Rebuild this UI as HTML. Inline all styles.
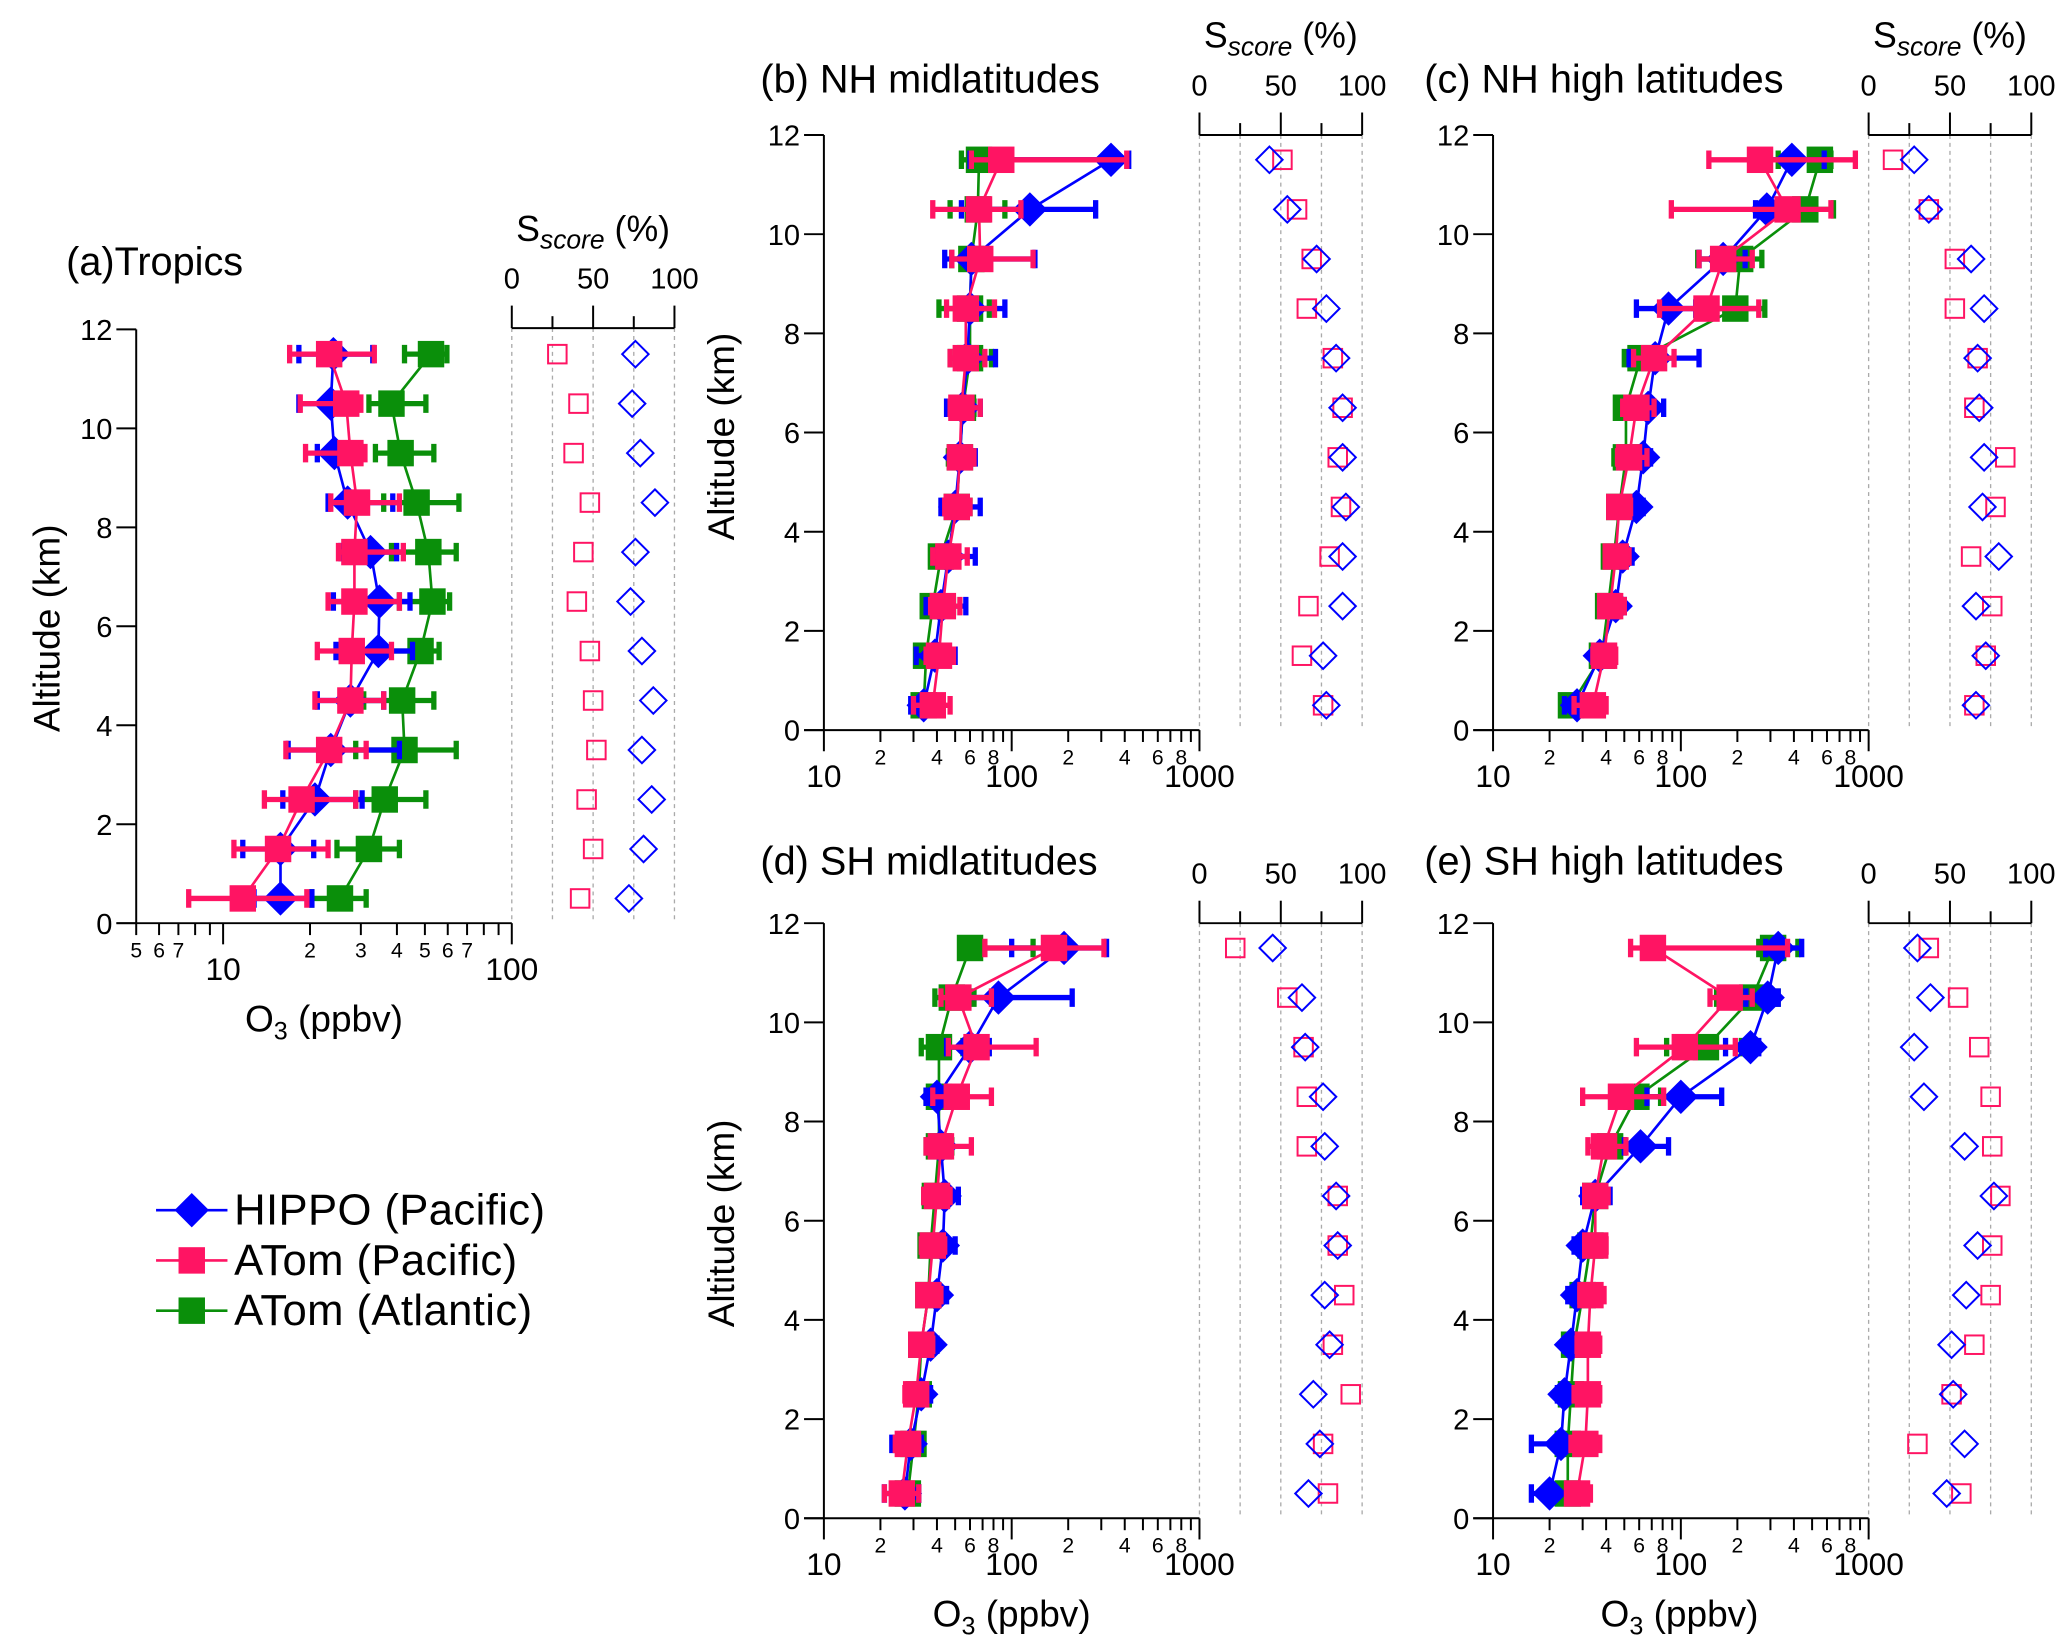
<!DOCTYPE html>
<html><head><meta charset="utf-8"><style>html,body{margin:0;padding:0;background:#fff}svg{display:block}text{font-family:"Liberation Sans",sans-serif}</style></head>
<body>
<svg id="fig" width="2067" height="1648" viewBox="0 0 1563 1246" xmlns="http://www.w3.org/2000/svg"></svg>
<script>
// altitudes (km), bottom -> top
const altitudes=[0.5,1.5,2.5,3.5,4.5,5.5,6.5,7.5,8.5,9.5,10.5,11.5];
// Panel a: Tropics
const aBlue=[15.8,15.8,20.8,23.6,27.6,34.5,34.8,32.4,27.0,24.3,23.6,24.1];
const aBlueLo=[12.8,11.7,16.1,16.8,21.2,24.6,24.1,25.6,23.1,21.2,18.3,18.3];
const aBlueHi=[20.3,20.6,30.3,40.8,36.0,45.3,44.4,39.9,38.7,29.1,28.5,33.0];
const aPink=[11.7,15.5,18.7,23.3,27.6,27.9,28.5,28.5,29.1,27.6,26.7,23.3];
const aPinkLo=[7.6,10.9,13.9,16.5,20.8,21.2,23.1,25.1,23.6,19.3,18.5,17.0];
const aPinkHi=[19.5,23.1,28.8,31.3,36.0,38.3,40.8,42.1,40.8,31.0,30.0,33.4];
const aGreen=[25.4,32.0,36.3,42.5,41.7,48.3,53.1,51.4,46.8,41.2,38.3,52.5];
const aGreenLo=[20.3,24.8,28.8,28.8,30.7,36.0,40.8,38.3,36.0,33.7,32.0,42.5];
const aGreenHi=[31.3,40.8,50.4,64.2,53.7,56.0,60.9,64.2,65.6,53.7,50.4,59.6];
const aSBlue=[72,81,86,80,87,80,73,76,88,79,74,76];
const aSPink=[42,50,46,52,50,48,40,44,48,38,41,28];
// Panel b: NH midlatitudes
const bBlue=[34,39,42,46,50,53,55,58,60,61,125,338];
const bBlueLo=[29,31,35,39,42,48,45,52,52,44,54,60];
const bBlueHi=[42,50,57,64,68,64,68,82,92,133,280,420];
const bPink=[38,41,43,46,51,53,54,57,57,68,67,88];
const bPinkLo=[30,35,37,38,44,47,47,47,45,48,38,61];
const bPinkHi=[47,49,53,58,60,63,68,72,81,130,112,410];
const bGreen=[34,35,38,42,51,53,55,60,60,61,66,67];
const bGreenLo=[30,31,34,37,43,46,47,47,41,48,47,54];
const bGreenHi=[40,42,49,52,60,62,63,78,76,72,92,90];
const bSBlue=[78,76,88,88,90,88,88,84,78,72,54,43];
const bSPink=[76,63,67,80,87,85,88,82,66,69,60,51];
// Panel c: NH high latitudes
const cBlue=[28,37,45,49,58,63,67,73,86,168,287,390];
const cBlueLo=[24,34,39,42,50,50,53,53,58,125,250,283];
const cBlueHi=[32,42,50,55,63,69,81,125,120,220,330,580];
const cPink=[34,39,42,45,47,53,58,72,137,168,370,264];
const cPinkLo=[27,34,37,40,42,46,49,56,77,125,89,141];
const cPinkHi=[40,45,50,53,54,66,72,92,260,240,630,850];
const cGreen=[26,38,41,44,47,51,51,61,195,207,460,550];
const cGreenLo=[23,34,37,39,42,44,45,50,130,123,300,330];
const cGreenHi=[31,43,48,51,56,61,66,81,280,270,650,630];
const cSBlue=[66,72,66,80,70,71,68,67,71,63,37,28];
const cSPink=[65,72,76,63,78,84,65,67,53,53,37,15];
// Panel d: SH midlatitudes
const dBlue=[27,29,33,37,40,43,44,42,40,60,85,190];
const dBlueLo=[21,23,29,32,34,36,35,38,35,45,57,100];
const dBlueHi=[32,33,37,40,45,50,52,47,46,76,210,320];
const dPink=[26,28,31,33,36,38,40,42,51,65,52,168];
const dPinkLo=[21,24,27,30,32,33,34,35,38,46,42,72];
const dPinkHi=[32,32,35,38,42,44,47,61,78,135,78,310];
const dGreen=[28,30,32,33,36,37,39,41,41,41,48,60];
const dGreenLo=[24,26,28,29,32,33,34,35,35,33,39,54];
const dGreenHi=[32,34,35,37,41,42,45,48,50,55,63,130];
const dSBlue=[67,74,70,80,77,85,84,77,76,65,63,45];
const dSPink=[79,76,93,82,89,85,85,66,66,64,54,22];
// Panel e: SH high latitudes
const eBlue=[20,23,24,26,28,30,35,61,100,235,290,330];
const eBlueLo=[16,16,22,24,25,27,30,50,66,173,222,283];
const eBlueHi=[25,28,27,29,32,35,42,86,165,260,330,440];
const ePink=[28,31,32,32,33,35,35,39,48,105,182,71];
const ePinkLo=[25,26,27,28,29,31,31,32,30,58,143,54];
const ePinkHi=[33,37,37,37,39,40,41,51,81,195,240,370];
const eGreen=[25,25,26,27,30,33,35,42,58,136,240,310];
const eGreenLo=[23,23,24,25,27,29,31,36,45,84,155,260];
const eGreenHi=[28,28,29,30,33,37,39,50,78,210,330,420];
const eSBlue=[48,59,52,51,60,67,77,59,34,28,38,30];
const eSPink=[57,30,51,65,75,76,81,76,75,68,55,37];
// axis tick labels
const altTicks=[0,2,4,6,8,10,12];
const sTicks=[0,50,100];
const sMinor=[25,75];

const BLUE='#0000ff',PINK='#ff1463',GREEN='#0a8f0a';
const svg=document.getElementById('fig');
const NS='http://www.w3.org/2000/svg';
function mk(tag,attrs,parent){const e=document.createElementNS(NS,tag);for(const k in attrs)e.setAttribute(k,attrs[k]);(parent||svg).appendChild(e);return e;}
function txt(x,y,s,size,anchor,parent){const t=mk('text',{x:x,y:y,'font-size':size,'text-anchor':anchor||'middle',fill:'#000'},parent);t.textContent=s;return t;}

const panels=[
 {id:'a',title:'(a)Tropics',tx:50,ty:208,x0:103,x1:387,lmin:Math.log10(5),lmax:2,y0:698,y1:249,sx0:387,sx1:510,sy:248,stitle:true,ytitle:[35,475],xtitle:[245,780],
  minorVals:[5,6,7,8,9,20,30,40,50,60,70,80,90],minorLab:[5,6,7,20,30,40,50,60,70],majors:[10,100],
  blue:[aBlue,aBlueLo,aBlueHi],pink:[aPink,aPinkLo,aPinkHi],green:[aGreen,aGreenLo,aGreenHi],sb:aSBlue,sp:aSPink},
 {id:'b',title:'(b) NH midlatitudes',tx:575,ty:70,x0:623,x1:907,lmin:1,lmax:3,y0:552,y1:102,sx0:907,sx1:1030,sy:102,stitle:true,ytitle:[545,330],xtitle:null,
  blue:[bBlue,bBlueLo,bBlueHi],pink:[bPink,bPinkLo,bPinkHi],green:[bGreen,bGreenLo,bGreenHi],sb:bSBlue,sp:bSPink},
 {id:'c',title:'(c) NH high latitudes',tx:1077,ty:70,x0:1129,x1:1413,lmin:1,lmax:3,y0:552,y1:102,sx0:1413,sx1:1536,sy:102,stitle:true,ytitle:null,xtitle:null,
  blue:[cBlue,cBlueLo,cBlueHi],pink:[cPink,cPinkLo,cPinkHi],green:[cGreen,cGreenLo,cGreenHi],sb:cSBlue,sp:cSPink},
 {id:'d',title:'(d) SH midlatitudes',tx:575,ty:661,x0:623,x1:907,lmin:1,lmax:3,y0:1148,y1:698,sx0:907,sx1:1030,sy:698,stitle:false,ytitle:[545,925],xtitle:[765,1230],
  blue:[dBlue,dBlueLo,dBlueHi],pink:[dPink,dPinkLo,dPinkHi],green:[dGreen,dGreenLo,dGreenHi],sb:dSBlue,sp:dSPink},
 {id:'e',title:'(e) SH high latitudes',tx:1077,ty:661,x0:1129,x1:1413,lmin:1,lmax:3,y0:1148,y1:698,sx0:1413,sx1:1536,sy:698,stitle:false,ytitle:null,xtitle:[1270,1230],
  blue:[eBlue,eBlueLo,eBlueHi],pink:[ePink,ePinkLo,ePinkHi],green:[eGreen,eGreenLo,eGreenHi],sb:eSBlue,sp:eSPink}
];
panels.forEach(p=>{ if(!p.minorVals){p.minorVals=[20,30,40,50,60,70,80,90,200,300,400,500,600,700,800,900];p.minorLab=[20,40,60,80,200,400,600,800];p.majors=[10,100,1000];}});

function drawPanel(p){
 const g=mk('g',{});
 
 
 const X=v=>p.x0+(Math.log10(v)-p.lmin)/(p.lmax-p.lmin)*(p.x1-p.x0);
 const Y=a=>p.y0+(a/12)*(p.y1-p.y0);
 const S=s=>p.sx0+s/100*(p.sx1-p.sx0);
 const t=txt(p.tx,p.ty,p.title,30,'start',g);
 
 
 const ax=mk('g',{stroke:'#000','stroke-width':1.5},g);
 
 
 mk('line',{x1:p.x0,y1:p.y1,x2:p.x0,y2:p.y0},ax);
 mk('line',{x1:p.x0-15,y1:p.y0,x2:p.x1,y2:p.y0},ax);
 altTicks.forEach(a=>{mk('line',{x1:p.x0-15,y1:Y(a),x2:p.x0,y2:Y(a)},ax);
   const l=txt(p.x0-18,Y(a)+8,String(a),22,'end',g);
   
   });
 p.majors.forEach(v=>{mk('line',{x1:X(v),y1:p.y0,x2:X(v),y2:p.y0+16},ax);
   const l=txt(X(v),p.y0+43,String(v),24,'middle',g);
   
   });
 p.minorVals.forEach(v=>{if(X(v)>=p.x0-0.5)mk('line',{x1:X(v),y1:p.y0,x2:X(v),y2:p.y0+9},ax);});
 p.minorLab.forEach(v=>{const s=String(v)[0];const l=txt(X(v),p.y0+26,s,16,'middle',g);
   
   });
 if(p.ytitle){const yt=txt(0,0,'Altitude (km)',28,'middle',g);yt.setAttribute('transform',`translate(${p.ytitle[0]+10},${p.ytitle[1]}) rotate(-90)`);
   
   }
 if(p.xtitle){const xt=mk('text',{x:p.xtitle[0],y:p.xtitle[1],'font-size':28,'text-anchor':'middle'},g);
   xt.innerHTML='O<tspan font-size="19" dy="6">3</tspan><tspan dy="-6"> (ppbv)</tspan>';
   
   }
 const sg=mk('g',{},g);
 
 
 [0,25,50,75,100].forEach(s=>mk('line',{x1:S(s),y1:p.sy,x2:S(s),y2:p.y0,stroke:'#aaa','stroke-width':1,'stroke-dasharray':'3,3'},sg));
 mk('line',{x1:p.sx0,y1:p.sy,x2:p.sx1,y2:p.sy,stroke:'#000','stroke-width':1.5},sg);
 sTicks.forEach(s=>{mk('line',{x1:S(s),y1:p.sy,x2:S(s),y2:p.sy-17,stroke:'#000','stroke-width':1.5},sg);txt(S(s),p.sy-30,String(s),22,'middle',sg);});
 sMinor.forEach(s=>mk('line',{x1:S(s),y1:p.sy,x2:S(s),y2:p.sy-9,stroke:'#000','stroke-width':1.5},sg));
 if(p.stitle){const st=mk('text',{x:(p.sx0+p.sx1)/2,y:p.sy-66,'font-size':27,'text-anchor':'middle'},sg);
   st.innerHTML='S<tspan font-size="20" font-style="italic" dy="6">score</tspan><tspan dy="-6"> (%)</tspan>';}
 const series=[['green',GREEN,'sq'],['blue',BLUE,'di'],['pink',PINK,'sq']];
 series.forEach(([nm,col,shape])=>{
  const [m,lo,hi]=p[nm];
  const sgp=mk('g',{},g);
  
  
  const pts=altitudes.map((a,i)=>X(m[i]).toFixed(1)+','+Y(a).toFixed(1)).join(' ');
  mk('polyline',{points:pts,fill:'none',stroke:col,'stroke-width':2},sgp);
  altitudes.forEach((a,i)=>{
   const y=Y(a),xl=X(lo[i]),xh=X(hi[i]);
   const eb=mk('path',{d:`M${xl},${y}H${xh}M${xl},${y-7}V${y+7}M${xh},${y-7}V${y+7}`,stroke:col,'stroke-width':4,fill:'none'},sgp);
   
   
   const x=X(m[i]);let mkEl;
   if(shape==='sq') mkEl=mk('rect',{x:x-10,y:y-10,width:20,height:20,fill:col},sgp);
   else mkEl=mk('path',{d:`M${x},${y-13}L${x+13},${y}L${x},${y+13}L${x-13},${y}Z`,fill:col},sgp);
   
   
  });
 });
 altitudes.forEach((a,i)=>{
  const y=Y(a);
  const x1=S(p.sp[i]);
  const r=mk('rect',{x:x1-7,y:y-7,width:14,height:14,fill:'none',stroke:PINK,'stroke-width':1.5},g);
  
  
  const x2=S(p.sb[i]);
  const d=mk('path',{d:`M${x2},${y-10}L${x2+10},${y}L${x2},${y+10}L${x2-10},${y}Z`,fill:'none',stroke:BLUE,'stroke-width':1.5},g);
  
  
 });
}
panels.forEach(drawPanel);

const leg=mk('g',{});


const legItems=[['HIPPO (Pacific)',BLUE,'di',915],['ATom (Pacific)',PINK,'sq',953],['ATom (Atlantic)',GREEN,'sq',991]];
legItems.forEach(([label,col,shape,y])=>{
 const e=mk('g',{},leg);
 
 
 mk('line',{x1:118,y1:y,x2:172,y2:y,stroke:col,'stroke-width':2},e);
 if(shape==='sq') mk('rect',{x:135,y:y-10,width:20,height:20,fill:col},e);
 else mk('path',{d:`M145,${y-13}L158,${y}L145,${y+13}L132,${y}Z`,fill:col},e);
 const t=txt(177,y+11,label,33,'start',e);
 t.setAttribute('letter-spacing','0.3');
});
</script>
</body></html>
